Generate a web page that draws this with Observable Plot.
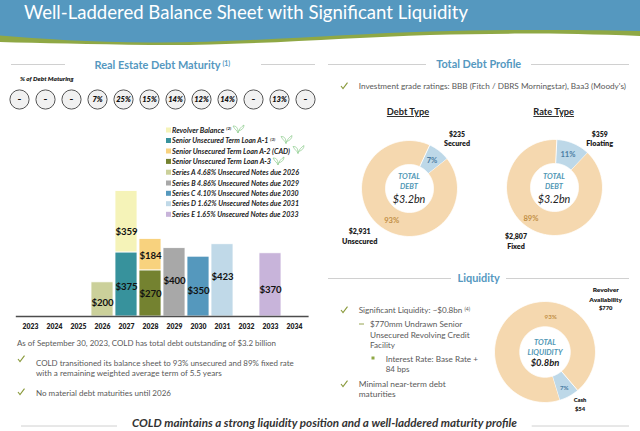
<!DOCTYPE html>
<html><head><meta charset="utf-8">
<script src="https://cdn.jsdelivr.net/npm/d3@7"></script>
<script src="https://cdn.jsdelivr.net/npm/@observablehq/plot@0.6"></script>
<style>
html,body{margin:0;padding:0;background:#fff}
#page{position:relative;width:640px;height:431px;overflow:hidden;font-family:Lato,sans-serif}
#page>*{position:absolute}
</style></head><body><div id="page"></div>
<script>
// ---- data ----
const years=[2023,2024,2025,2026,2027,2028,2029,2030,2031,2032,2033,2034];
const pctMaturing=["–","–","–","7%","25%","15%","14%","12%","14%","–","13%","–"];
const seriesNames=["Revolver Balance","Senior Unsecured Term Loan A-1","Senior Unsecured Term Loan A-2 (CAD)","Senior Unsecured Term Loan A-3","Series A 4.68% Unsecured Notes due 2026","Series B 4.86% Unsecured Notes due 2029","Series C 4.10% Unsecured Notes due 2030","Series D 1.62% Unsecured Notes due 2031","Series E 1.65% Unsecured Notes due 2033"];
const seriesColors=["#F5F3B8","#37929C","#F8D27E","#748230","#CBD09A","#A8A8A8","#5598BD","#C0D9E8","#C8B4DA"];
const debtYears=[2026,2027,2027,2028,2028,2029,2030,2031,2033];
const debtSeries=[4,1,0,3,2,5,6,7,8];
const debtValues=[200,375,359,270,184,400,350,423,370];
const debtTypeNames=["Secured","Unsecured"];
const debtTypeValues=[235,2931];
const rateTypeNames=["Floating","Fixed"];
const rateTypeValues=[359,2807];
const liquidityNames=["Cash","Revolver Availability"];
const liquidityValues=[54,770];

// ---- layout ----
const page=document.getElementById("page");
const put=(el,left,top)=>{el.style.left=left+"px";el.style.top=top+"px";page.appendChild(el);};
const PEACH="#F5D8AF",ICE="#BDD8E8",INK="#1c1c1c",BODY="#595959",HEAD="#5598BF";
const labelDy={0:10,1:2.5,2:1,3:0.5,4:3.5,5:-1.5,6:4.5,7:-3.5,8:5.5};

// stacked rows
const baseByYear=new Map();
const rows=debtYears.map((y,i)=>{
  const b=baseByYear.get(y)||0; baseByYear.set(y,b+debtValues[i]);
  return {year:y,s:debtSeries[i],name:seriesNames[debtSeries[i]],value:debtValues[i],mid:b+debtValues[i]/2};
});

const xBand={domain:years,padding:0.075,align:0.5};
const barChart=Plot.plot({
  width:320,height:335,marginLeft:15.8,marginRight:11.4,marginTop:190.6,marginBottom:19,
  style:{background:"transparent",fontFamily:"Lato,sans-serif"},
  x:{...xBand,label:null,tickSize:0,tickPadding:5,tickFormat:d=>String(d)},
  y:{domain:[0,734],axis:null},
  color:{domain:seriesNames,range:seriesColors},
  marks:[
    Plot.barY(rows,{x:"year",y:"value",fill:"name",stroke:"#fff",strokeWidth:0.8}),
    Plot.ruleY([0],{stroke:"#4d4d4d",strokeWidth:1.3}),
    ...rows.map(r=>Plot.text([r],{x:"year",y:"mid",text:d=>"$"+d.value,dy:labelDy[r.s],fontSize:9.6,fontWeight:700,fill:"#111"})),
    Plot.axisX({fontSize:6.8,fontWeight:800,tickSize:0,tickPadding:8,fill:"#222",tickFormat:d=>String(d),label:null})
  ]
});
put(barChart,0,0);

const pctChart=Plot.plot({
  width:320,height:24,marginLeft:15.8,marginRight:11.4,marginTop:0,marginBottom:0,
  style:{background:"transparent",fontFamily:"Lato,sans-serif"},
  x:{...xBand,axis:null},
  marks:[
    Plot.dot(years,{x:d=>d,r:9.6,fill:"#F1F1F1",stroke:"#555",strokeWidth:1}),
    Plot.text(years.map((y,i)=>({y,t:pctMaturing[i]})),{x:"y",text:"t",fontSize:7.5,fontWeight:800,fontStyle:"italic",fill:"#111"})
  ]
});
put(pctChart,0,86.5);

function donut(names,values,colors,cx,cy,R,startDeg,inner=0.5){
  const total=d3.sum(values);
  const pts=[];let a=startDeg;
  names.forEach((n,i)=>{
    const sweep=values[i]/total*360,steps=Math.ceil(sweep);
    const ring=[];
    for(let k=0;k<=steps;k++){const t=(a+sweep*k/steps)*Math.PI/180;ring.push([Math.sin(t),Math.cos(t)]);}
    ring.forEach(([s,c])=>pts.push({name:n,x:s,y:c}));
    ring.reverse().forEach(([s,c])=>pts.push({name:n,x:s*inner,y:c*inner}));
    a+=sweep;
  });
  const ch=Plot.plot({
    width:2*R+4,height:2*R+4,margin:2,
    style:{background:"transparent"},
    x:{domain:[-1,1],axis:null},y:{domain:[-1,1],axis:null},
    color:{domain:names,range:colors},
    marks:[Plot.line(pts,{x:"x",y:"y",z:"name",fill:"name",stroke:"#fff",strokeWidth:0.9})]
  });
  put(ch,cx-R-2,cy-R-2);
}
donut(debtTypeNames,debtTypeValues,[ICE,PEACH],409.3,188,48,25);
donut(rateTypeNames,rateTypeValues,[ICE,PEACH],553.7,187.3,48,2.8);
donut(liquidityNames,liquidityValues,[ICE,PEACH],544.7,351,50.5,139.6);

// ---- page furniture ----
const svg=d3.create("svg").attr("width",640).attr("height",431).style("left","0").style("top","0").style("pointer-events","none");
put(svg.node(),0,0);
svg.append("path").attr("fill","#8FA845").attr("d","M0,0H640V36C560,33 500,33 430,35 C340,38 240,46 150,45 C90,44 40,43 0,42Z");
svg.append("path").attr("fill","#5598BF").attr("d","M0,0H640V31C560,29.5 500,29.5 430,31.5 C340,34 240,43 150,42.5 C90,42 40,39 0,35.5Z");
function T(x,y,str,o={}){
  const t=svg.append("text").attr("x",x).attr("y",y).text(str)
   .attr("font-size",o.size||8.3).attr("fill",o.fill||BODY).attr("font-family","Lato,sans-serif")
   .attr("text-anchor",o.anchor||"start").attr("font-weight",o.weight||400).attr("font-style",o.italic?"italic":"normal");
  if(o.underline)t.attr("text-decoration","underline");
  if(o.w)t.attr("textLength",o.w).attr("lengthAdjust","spacingAndGlyphs");
  if(o.sup){
    const end=o.anchor==="middle"?x+o.w/2:x+o.w;
    T(end+2,y-2.5,o.sup,{size:(o.size||8.3)*0.62,fill:o.fill,weight:o.weight,italic:o.italic});
  }
  return t;
}
const L=(x1,x2,y)=>svg.append("line").attr("x1",x1).attr("x2",x2).attr("y1",y).attr("y2",y).attr("stroke","#d0d0d0").attr("stroke-width",1);
const check=(x,y)=>svg.append("path").attr("d",`M${x},${y}l2,2.6l4.5,-6`).attr("fill","none").attr("stroke","#8A9A3C").attr("stroke-width",1.1);
const leaf=(x,y)=>svg.append("path").attr("transform",`translate(${x},${y})`).attr("fill","none").attr("stroke","#8CCB8C").attr("stroke-width",0.7)
  .attr("d","M5,8C4,5 2,5 0,1C3,1 5,2 5,8M5,8C6,4 8,2 11,0C11,3 9,5 5.5,6");

T(24,18.8,"Well-Laddered Balance Sheet with Significant Liquidity",{size:18.8,fill:"#fff",w:444});

// left section
L(11,65,64.5);L(261,315,64.5);
T(157.5,68.5,"Real Estate Debt Maturity",{size:11,fill:HEAD,weight:700,anchor:"middle",w:126,sup:"(1)"});
T(20,81,"% of Debt Maturing",{size:5.9,fill:INK,weight:800,italic:true,w:53.7});
const legendY=[130,140.5,151,161.4,172.2,183,193.3,203.7,214.3];
const legendW=[52.3,96.3,118,99,127,127,126.7,127,126.5];
const supers={0:"(2)",1:"(3)"};
seriesNames.forEach((n,i)=>{
  svg.append("rect").attr("x",166).attr("y",legendY[i]-2.5).attr("width",5).attr("height",5).attr("fill",seriesColors[i]);
  T(172,legendY[i]+2.5,n,{size:7.15,fill:INK,weight:700,italic:true,w:legendW[i],sup:supers[i]});
});
leaf(233,125);leaf(281,135.5);leaf(293,145.5);leaf(273,157);
T(17,345.8,"As of September 30, 2023, COLD has total debt outstanding of $3.2 billion",{w:259});
check(18,359);
T(36,365.7,"COLD transitioned its balance sheet to 93% unsecured and 89% fixed rate",{w:257.7});
T(36,376.3,"with a remaining weighted average term of 5.5 years",{w:185.7});
check(18,392);
T(36,396,"No material debt maturities until 2026",{w:135});

// right: debt profile
L(328,426,64.5);L(531,629,64.5);
T(478.7,68.2,"Total Debt Profile",{size:11,fill:HEAD,weight:700,anchor:"middle",w:85});
check(341,86);
T(358.7,88.7,"Investment grade ratings: BBB (Fitch / DBRS Morningstar), Baa3 (Moody's)",{w:267.3});
T(408,115,"Debt Type",{size:9.2,fill:"#222",weight:700,anchor:"middle",underline:true,w:42.3});
T(553.7,115,"Rate Type",{size:9.2,fill:"#222",weight:700,anchor:"middle",underline:true,w:40.7});
const lab={size:6.9,fill:INK,weight:800,anchor:"middle"};
T(457,137,"$235",lab);T(457,146,"Secured",{...lab,w:26});
T(359.7,234,"$2,931",{...lab,w:22});T(359.7,244,"Unsecured",{...lab,w:35.3});
T(599.7,136.5,"$359",lab);T(599.7,145.7,"Floating",{...lab,w:27});
T(516,239,"$2,807",{...lab,w:22});T(516,249,"Fixed",{...lab,w:17.7});
const ptB={size:7.6,fill:"#4B7DA3",weight:700,anchor:"middle"},ptO={size:7.6,fill:"#C28F45",weight:700,anchor:"middle"};
T(432,162.5,"7%",ptB);T(391.7,222.5,"93%",ptO);T(568,156.5,"11%",ptB);T(531,220.5,"89%",ptO);
const cLab={size:7.6,fill:"#4F97B5",weight:700,italic:true,anchor:"middle"},cVal={size:11.5,fill:"#222",weight:400,italic:true,anchor:"middle",w:32.7};
[409,554].forEach(x=>{T(x,178.5,"TOTAL",{...cLab,w:22});T(x,188.5,"DEBT",{...cLab,w:18});T(x,202.5,"$3.2bn",cVal);});

// right: liquidity
L(328,451,278.5);L(506,629,278.5);
T(478.7,281.8,"Liquidity",{size:11,fill:HEAD,weight:700,anchor:"middle",w:42.3});
check(341,310);
T(358.7,313,"Significant Liquidity: ~$0.8bn",{w:103.7,sup:"(4)"});
svg.append("line").attr("x1",359).attr("x2",364).attr("y1",324).attr("y2",324).attr("stroke","#8A9A3C").attr("stroke-width",0.9);
T(370,327,"$770mm Undrawn Senior",{w:92.3});T(370,337.5,"Unsecured Revolving Credit",{w:99.7});T(370,348,"Facility",{w:25});
svg.append("rect").attr("x",371.5).attr("y",356.5).attr("width",3).attr("height",3).attr("fill","#8FA845");
T(385.7,361.7,"Interest Rate: Base Rate +",{w:92.3});T(385.7,372.3,"84 bps",{w:23.7});
check(341,384);
T(358.7,386.5,"Minimal near-term debt",{w:87});T(358.7,397.3,"maturities",{w:37});
const lab2={size:5.8,fill:INK,weight:800,anchor:"middle"};
T(605.7,292.3,"Revolver",{...lab2,w:26});T(605.7,301.7,"Availability",{...lab2,w:32.7});T(605.7,310.3,"$770",lab2);
T(580,402.3,"Cash",lab2);T(580,410.7,"$54",lab2);
T(550.7,318.5,"93%",{...ptO,size:6.2});T(564.3,389.5,"7%",{...ptB,size:6.2});
T(545,345,"TOTAL",{...cLab,size:7.2,w:22});T(545,354.5,"LIQUIDITY",{...cLab,size:7.2,w:35});
T(545,365.5,"$0.8bn",{...cVal,size:9.6,weight:700,w:28.7});

// footer
L(21,117,426);L(531.7,629,426);
T(324.5,427.3,"COLD maintains a strong liquidity position and a well-laddered maturity profile",{size:11.2,fill:"#333",weight:700,italic:true,anchor:"middle",w:385});
</script></body></html>
